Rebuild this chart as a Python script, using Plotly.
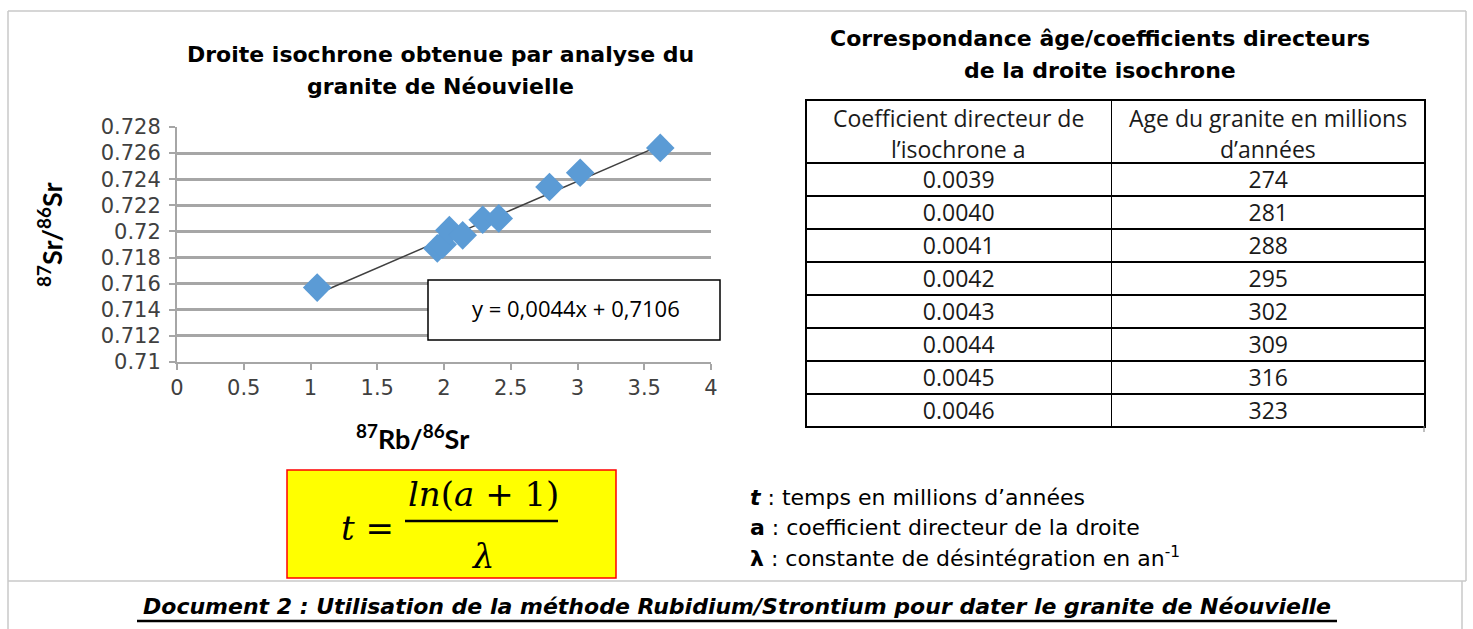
import plotly.graph_objects as go

W, H = 1473, 629

# ---------------- data ----------------
rb_sr = [1.05, 1.95, 1.99, 2.04, 2.14, 2.29, 2.41, 2.79, 3.02, 3.62]
sr_sr = [0.7157, 0.7187, 0.7190, 0.7201, 0.7197, 0.7209, 0.7210, 0.7234, 0.7245, 0.7264]
trend_x = [1.07, 3.60]
trend_y = [0.7153, 0.7265]
equation_label = "y = 0,0044x + 0,7106"

x_tickvals = [0, 0.5, 1, 1.5, 2, 2.5, 3, 3.5, 4]
x_ticktext = ["0", "0.5", "1", "1.5", "2", "2.5", "3", "3.5", "4"]
y_tickvals = [0.71, 0.712, 0.714, 0.716, 0.718, 0.72, 0.722, 0.724, 0.726, 0.728]
y_ticktext = ["0.71", "0.712", "0.714", "0.716", "0.718", "0.72", "0.722", "0.724", "0.726", "0.728"]

table_header_lines = [["Coefficient directeur de", "l’isochrone a"],
                      ["Age du granite en millions", "d’années"]]
coef_a = ["0.0039", "0.0040", "0.0041", "0.0042", "0.0043", "0.0044", "0.0045", "0.0046"]
age_ma = ["274", "281", "288", "295", "302", "309", "316", "323"]


def px(x):
    return x / W


def py(y):
    return 1 - y / H


fig = go.Figure()

# trend line
fig.add_trace(go.Scatter(x=trend_x, y=trend_y, mode="lines",
                         line=dict(color="#404040", width=1.5), showlegend=False, hoverinfo="skip"))
# points
fig.add_trace(go.Scatter(x=rb_sr, y=sr_sr, mode="markers",
                         marker=dict(symbol="diamond", size=22, color="#5B9BD5"),
                         showlegend=False))

# table (header text drawn as centred annotations below)
TFONT = dict(family="Open Sans", size=23, color="#1a1a1a")
fig.add_trace(go.Table(
    domain=dict(x=[px(806), px(1425)], y=[py(480), py(100)]),
    columnwidth=[305, 313],
    header=dict(values=["", ""], height=63, align="center",
                line=dict(color="black", width=1.5), fill=dict(color="white"), font=TFONT),
    cells=dict(values=[coef_a, age_ma], height=33, align="center",
               line=dict(color="black", width=1.5), fill=dict(color="white"), font=TFONT),
))

grid = "#A6A6A6"
TICKF = dict(family="DejaVu Sans", size=21, color="#404040")
fig.update_xaxes(domain=[px(177), px(711)], range=[0, 4], tickvals=x_tickvals, ticktext=x_ticktext,
                 showgrid=False, zeroline=False, showline=True, linecolor=grid, linewidth=2,
                 ticks="outside", ticklen=6, tickcolor=grid, tickwidth=2, automargin=False,
                 tickfont=TICKF, fixedrange=True)
fig.update_yaxes(domain=[py(362), py(127)], range=[0.71, 0.728], tickvals=y_tickvals, ticktext=y_ticktext,
                 showgrid=True, gridcolor=grid, gridwidth=2.5, zeroline=False,
                 showline=True, linecolor=grid, linewidth=2, automargin=False,
                 ticks="outside", ticklen=6, tickcolor=grid, tickwidth=2, ticklabelstandoff=4,
                 tickfont=TICKF, fixedrange=True)

ann = []


def text(x, y, t, size, family="DejaVu Sans", xanchor="center", color="black", angle=0):
    ann.append(dict(xref="paper", yref="paper", x=px(x), y=py(y), text=t, showarrow=False,
                    xanchor=xanchor, yanchor="middle", textangle=angle,
                    font=dict(family=family, size=size, color=color)))


# chart titles
text(440, 55, "<b>Droite isochrone obtenue par analyse du</b>", 22)
text(440, 87, "<b>granite de Néouvielle</b>", 22)
text(1100, 38, "<b>Correspondance âge/coefficients directeurs</b>", 22)
text(1100, 70, "<b>de la droite isochrone</b>", 22)

# table header text
col_centres = [958, 1268]
for ci, lines in enumerate(table_header_lines):
    for li, s in enumerate(lines):
        text(col_centres[ci], 118 + 31 * li, s, 23, family="Open Sans", color="#1a1a1a")

# axis titles
text(50, 235, "<b><sup>87</sup>Sr/<sup>86</sup>Sr</b>", 27, family="Lato", angle=-90)
text(412, 437, "<b><sup>87</sup>Rb/<sup>86</sup>Sr</b>", 27, family="Lato")

# equation box
text(576, 308, equation_label, 22, family="Open Sans")

# formula
text(367, 528, "<i>t</i> =", 34, family="DejaVu Serif")
text(483, 494, "<i>ln</i>(<i>a</i> + 1)", 34, family="DejaVu Serif")
text(483, 556, "<i>λ</i>", 34, family="DejaVu Serif")

# legend of formula
text(748, 497, "<b><i>t</i></b> : temps en millions d’années", 22, xanchor="left")
text(748, 527, "<b>a</b> : coefficient directeur de la droite", 22, xanchor="left")
text(748, 557, "<b>λ</b> : constante de désintégration en an<sup>-1</sup>", 22, xanchor="left")

# caption
text(737, 606, "<b><i>Document 2 : Utilisation de la méthode Rubidium/Strontium pour dater le granite de Néouvielle</i></b>", 22)

shapes = []
border = "#C8C8C8"


def line(x0, y0, x1, y1, color, width):
    shapes.append(dict(type="line", xref="paper", yref="paper", x0=px(x0), y0=py(y0), x1=px(x1), y1=py(y1),
                       line=dict(color=color, width=width)))


line(8, 11, 1466, 11, border, 1.5)
line(8, 11, 8, 629, border, 1.5)
line(1466, 11, 1466, 581, border, 1.5)
line(8, 581, 1466, 581, border, 1.5)
line(1462, 581, 1462, 629, border, 1.5)
# caption underline
line(137, 621, 1337, 621, "black", 2.5)
# small tick below table corner
line(1424, 426, 1424, 432, "#808080", 1)

# equation box rectangle
shapes.append(dict(type="rect", xref="paper", yref="paper", x0=px(428), y0=py(340), x1=px(720), y1=py(280),
                   line=dict(color="black", width=1.5), fillcolor="white", layer="above"))
# formula box
shapes.append(dict(type="rect", xref="paper", yref="paper", x0=px(287), y0=py(578), x1=px(616), y1=py(470),
                   line=dict(color="#FF0000", width=1.5), fillcolor="#FFFF00", layer="below"))
line(405, 521, 558, 521, "black", 2.5)

fig.update_layout(width=W, height=H, margin=dict(l=0, r=0, t=0, b=0, autoexpand=False), autosize=False,
                  paper_bgcolor="white", plot_bgcolor="white",
                  annotations=ann, shapes=shapes, showlegend=False)

fig.write_html("out.html",
               config={"displayModeBar": False, "responsive": False},
               post_script=("document.body.style.margin='0';"
                            "document.body.style.overflow='hidden';"))
